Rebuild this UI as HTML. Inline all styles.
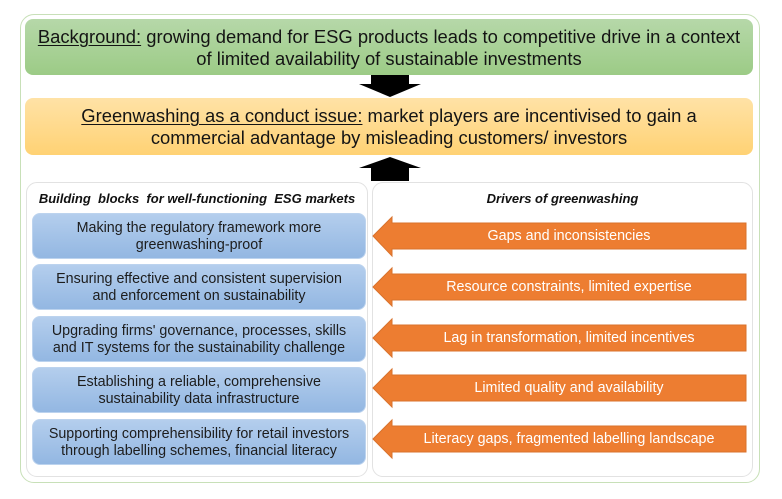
<!DOCTYPE html>
<html><head><meta charset="utf-8"><style>
html,body{margin:0;padding:0;background:#fff;}
body{width:782px;height:499px;position:relative;overflow:hidden;font-family:"Liberation Sans",Arial,sans-serif;}
.abs{position:absolute;box-sizing:border-box;}
.outer{left:20px;top:14px;width:740px;height:469px;border:1.5px solid #c8e0b8;border-radius:14px;}
.green{left:25px;top:19px;width:728px;height:56px;border-radius:8px;background:linear-gradient(#b6d8a9,#9ccb86);display:flex;align-items:center;justify-content:center;text-align:center;font-size:18.4px;line-height:22px;color:#141414;white-space:nowrap;padding-top:1px;}
.orange{left:25px;top:98px;width:728px;height:57px;border-radius:8px;background:linear-gradient(#ffe2a6,#ffd274);display:flex;align-items:center;justify-content:center;text-align:center;font-size:18.4px;line-height:22px;color:#141414;white-space:nowrap;}
u{text-decoration:underline;text-underline-offset:2px;text-decoration-thickness:1px;}
.panel{top:182px;height:295px;border:1.5px solid #e2e2e2;border-radius:11px;background:#fff;}
.title{font-weight:bold;font-style:italic;font-size:13px;color:#111;text-align:center;white-space:nowrap;}
.blue{left:32px;width:334px;height:46px;border-radius:8px;background:linear-gradient(#b4ceed,#93b7e2);border:1px solid #bcd3ee;display:flex;align-items:center;justify-content:center;text-align:center;font-size:14.3px;line-height:17px;color:#1d1d1d;white-space:nowrap;padding-top:2px;}
.atext{position:absolute;left:392px;width:354px;text-align:center;color:#fff;font-size:14.3px;line-height:16px;white-space:nowrap;}
</style></head><body>
<div class="abs outer"></div>
<div class="abs green"><div><u>Background:</u> growing demand for ESG products leads to competitive drive in a context<br>of limited availability of sustainable investments</div></div>
<div class="abs orange"><div><u>Greenwashing as a conduct issue:</u> market players are incentivised to gain a<br>commercial advantage by misleading customers/ investors</div></div>

<svg class="abs" style="left:0;top:0" width="782" height="499">
  <polygon points="371,75 409,75 409,84 421,84 390,97 359,84 371,84" fill="#000"/>
  <polygon points="371,181 409,181 409,168 421,168 390,157 359,168 371,168" fill="#000"/>
</svg>

<div class="abs panel" style="left:26px;width:342px;"></div>
<div class="abs panel" style="left:372px;width:381px;"></div>
<div class="abs title" style="left:26px;width:342px;top:191px;">Building&nbsp; blocks&nbsp; for well-functioning&nbsp; ESG markets</div>
<div class="abs title" style="left:372px;width:381px;top:191px;">Drivers of greenwashing</div>

<div class="abs blue" style="top:213px;">Making the regulatory framework more<br>greenwashing-proof</div>
<div class="abs blue" style="top:264px;">Ensuring effective and consistent supervision<br>and enforcement on sustainability</div>
<div class="abs blue" style="top:316px;">Upgrading firms' governance, processes, skills<br>and IT systems for the sustainability challenge</div>
<div class="abs blue" style="top:367px;">Establishing a reliable, comprehensive<br>sustainability data infrastructure</div>
<div class="abs blue" style="top:419px;">Supporting comprehensibility for retail investors<br>through labelling schemes, financial literacy</div>

<svg class="abs" style="left:0;top:0" width="782" height="499">
  <g fill="#ed7d31" stroke="#d9722c" stroke-width="1">
    <polygon points="373,236 392,217 392,223 746,223 746,249 392,249 392,256"/>
    <polygon points="373,287 392,268 392,274 746,274 746,300 392,300 392,306"/>
    <polygon points="373,338 392,319 392,325 746,325 746,351 392,351 392,357"/>
    <polygon points="373,388 392,369 392,375 746,375 746,401 392,401 392,407"/>
    <polygon points="373,439 392,420 392,426 746,426 746,452 392,452 392,458"/>
  </g>
</svg>
<div class="atext" style="top:228px;">Gaps and inconsistencies</div>
<div class="atext" style="top:279px;">Resource constraints, limited expertise</div>
<div class="atext" style="top:330px;">Lag in transformation, limited incentives</div>
<div class="atext" style="top:380px;">Limited quality and availability</div>
<div class="atext" style="top:431px;">Literacy gaps, fragmented labelling landscape</div>
</body></html>
